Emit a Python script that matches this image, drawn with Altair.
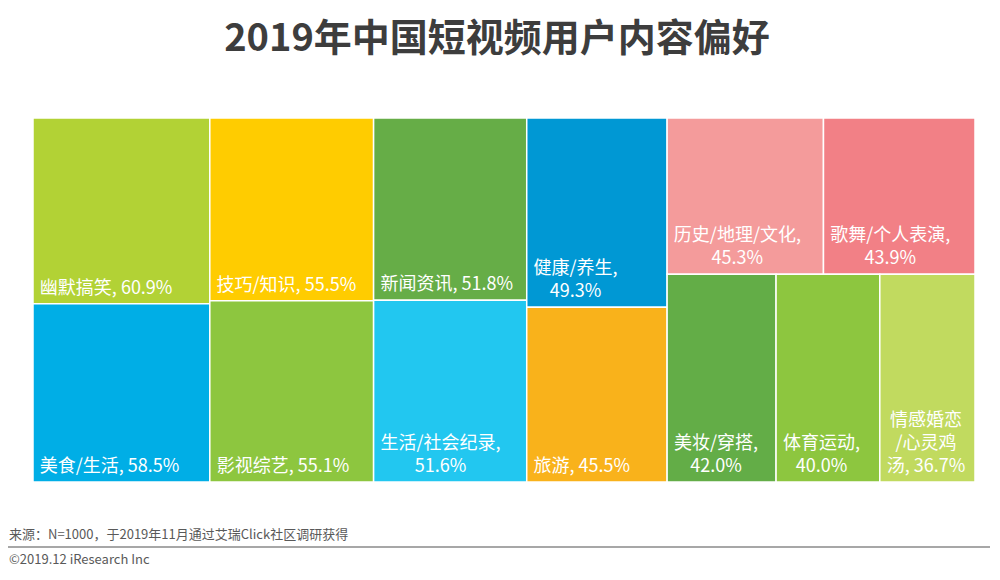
import altair as alt
import pandas as pd

FONT = "Noto Sans CJK SC"

title_text = "2019年中国短视频用户内容偏好"
source_text = "来源：N=1000，于2019年11月通过艾瑞Click社区调研获得"
copyright_text = "©2019.12 iResearch Inc"

names = ["幽默搞笑", "美食/生活", "技巧/知识", "影视综艺", "新闻资讯", "生活/社会纪录",
         "健康/养生", "旅游", "历史/地理/文化", "歌舞/个人表演", "美妆/穿搭", "体育运动",
         "情感婚恋/心灵鸡汤"]
values = [60.9, 58.5, 55.5, 55.1, 51.8, 51.6, 49.3, 45.5, 45.3, 43.9, 42.0, 40.0, 36.7]
cell_labels = ["幽默搞笑, 60.9%", "美食/生活, 58.5%", "技巧/知识, 55.5%", "影视综艺, 55.1%",
               "新闻资讯, 51.8%", "生活/社会纪录,\n51.6%", "健康/养生,\n49.3%", "旅游, 45.5%",
               "历史/地理/文化,\n45.3%", "歌舞/个人表演,\n43.9%", "美妆/穿搭,\n42.0%",
               "体育运动,\n40.0%", "情感婚恋\n/心灵鸡\n汤, 36.7%"]
colors = ["#b2d235", "#00aee6", "#ffcc00", "#8dc63f", "#66ad47", "#22c7f0",
          "#0098d4", "#f9b21b", "#f49b9b", "#f28086", "#63ad47", "#8dc63f", "#c1da5f"]

# treemap grouping (indices into the lists above): columns, last column split into rows
groups = [[0, 1], [2, 3], [4, 5], [6, 7], [[8, 9], [10, 11, 12]]]

W, H = 942, 364
FS = 18
LH = 23


def total(node):
    if isinstance(node, int):
        return values[node]
    return sum(total(c) for c in node)


def layout(node, x0, y0, x1, y1, depth, out):
    if isinstance(node, int):
        out[node] = (x0, y0, x1, y1)
        return
    t = total(node)
    pos = x0 if depth % 2 == 0 else y0
    for c in node:
        frac = total(c) / t
        if depth % 2 == 0:
            nx = pos + (x1 - x0) * frac
            layout(c, pos, y0, nx, y1, depth + 1, out)
            pos = nx
        else:
            ny = pos + (y1 - y0) * frac
            layout(c, x0, pos, x1, ny, depth + 1, out)
            pos = ny


def est_width(s):
    w = 0.0
    for ch in s:
        if ord(ch) > 0x2E80:
            w += FS
        elif ch in ".,: ":
            w += 0.27 * FS
        elif ch == "/":
            w += 0.38 * FS
        elif ch == "%":
            w += 0.86 * FS
        else:
            w += 0.56 * FS
    return w


rects = {}
layout(groups, 0, 0, W, H, 0, rects)

rows = []
for i, n in enumerate(names):
    x0, y0, x1, y1 = rects[i]
    lines = cell_labels[i].split("\n")
    lw = max(est_width(line) for line in lines)
    rows.append({"name": n, "value": values[i], "label": cell_labels[i],
                 "x0": x0, "x1": x1, "y0": y0, "y1": y1,
                 "lx": x0 + 7 + lw / 2, "ly": y1 - 6 - (len(lines) - 1) * LH})
df = pd.DataFrame(rows)

xs = alt.Scale(domain=[0, W], nice=False, zero=False)
ys = alt.Scale(domain=[0, H], nice=False, zero=False, reverse=True)

base = alt.Chart(df)
cells = base.mark_rect(stroke="white", strokeWidth=1.5).encode(
    x=alt.X("x0:Q", scale=xs, axis=None),
    x2="x1:Q",
    y=alt.Y("y0:Q", scale=ys, axis=None),
    y2="y1:Q",
    color=alt.Color("name:N", scale=alt.Scale(domain=names, range=colors), legend=None),
    tooltip=["name:N", "value:Q"],
)
labels = base.mark_text(align="center", baseline="bottom", fontSize=FS, color="white",
                        font=FONT, lineBreak="\n", lineHeight=LH).encode(
    x=alt.X("lx:Q", scale=xs, axis=None),
    y=alt.Y("ly:Q", scale=ys, axis=None),
    text="label:N",
)

tdf = pd.DataFrame({"t": [title_text], "s": [source_text], "c": [copyright_text]})
title = alt.Chart(tdf).mark_text(fontSize=38, fontWeight="bold", color="#3d3d3d",
                                 font=FONT, baseline="middle").encode(
    x=alt.value(464), y=alt.value(-78), text="t:N")
source = alt.Chart(tdf).mark_text(fontSize=13, color="#595959", font=FONT, align="left",
                                  baseline="middle").encode(
    x=alt.value(-24), y=alt.value(417), text="s:N")
rule = alt.Chart(tdf).mark_rule(color="#8a8a8a", strokeWidth=1.5).encode(
    x=alt.value(-25), x2=alt.value(962), y=alt.value(429))
copy = alt.Chart(tdf).mark_text(fontSize=13, color="#595959", font=FONT, align="left",
                                baseline="middle").encode(
    x=alt.value(-24), y=alt.value(442), text="c:N")

chart = alt.layer(cells, labels, title, source, rule, copy).properties(
    width=W, height=H,
    padding={"left": 25, "top": 110, "right": 15, "bottom": 85},
    autosize=alt.AutoSizeParams(type="none"),
    background="white",
).configure_view(stroke=None)

chart.save("out.html", embed_options={"renderer": "svg", "actions": False})
